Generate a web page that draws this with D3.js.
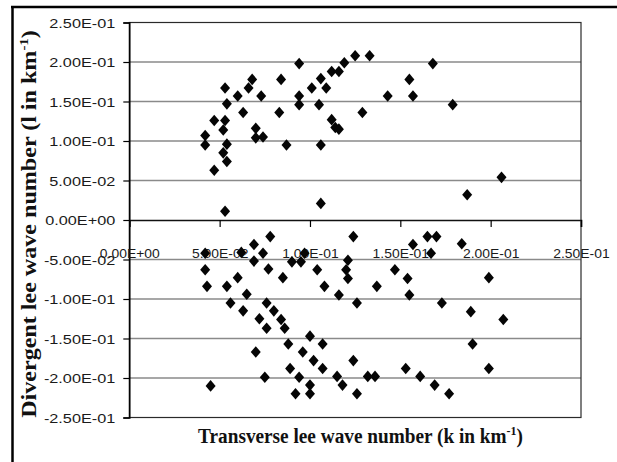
<!DOCTYPE html>
<html>
<head>
<meta charset="utf-8">
<script src="https://cdn.jsdelivr.net/npm/d3@7"></script>
<style>
  html, body { margin: 0; padding: 0; background: #fff; }
  svg { display: block; }
</style>
</head>
<body>
<svg id="chart" width="617" height="462"></svg>
<script>
// ---- data ----
const kUpper = [0.042,0.042,0.047,0.047,0.053,0.054,0.053,0.052,0.054,0.052,0.054,0.053,0.060,0.063,0.066,0.068,0.070,0.070,0.074,0.073,0.084,0.083,0.087,0.094,0.094,0.094,0.101,0.106,0.109,0.105,0.106,0.106,0.112,0.114,0.116,0.112,0.116,0.119,0.125,0.133,0.129,0.143,0.155,0.157,0.168,0.179,0.187,0.206];
const lUpper = [0.107,0.095,0.126,0.063,0.167,0.147,0.126,0.114,0.096,0.085,0.074,0.011,0.157,0.136,0.167,0.178,0.116,0.104,0.105,0.157,0.178,0.136,0.095,0.198,0.157,0.146,0.167,0.179,0.167,0.146,0.095,0.021,0.127,0.117,0.115,0.188,0.188,0.199,0.208,0.208,0.136,0.157,0.178,0.157,0.198,0.146,0.032,0.054];
const kLower = [0.042,0.042,0.043,0.045,0.054,0.060,0.056,0.063,0.065,0.069,0.062,0.069,0.074,0.078,0.077,0.085,0.090,0.095,0.097,0.104,0.108,0.076,0.080,0.084,0.072,0.076,0.086,0.088,0.070,0.075,0.096,0.100,0.107,0.102,0.089,0.094,0.107,0.100,0.092,0.100,
                0.124,0.121,0.120,0.121,0.116,0.126,0.137,0.147,0.154,0.155,0.157,0.165,0.170,0.167,0.184,0.199,0.173,0.189,0.207,0.190,0.199,0.124,0.115,0.118,0.126,0.132,0.136,0.153,0.161,0.169,0.177];
const lLower = [-0.042,-0.063,-0.084,-0.210,-0.084,-0.073,-0.105,-0.115,-0.094,-0.031,-0.041,-0.052,-0.042,-0.021,-0.062,-0.073,-0.053,-0.053,-0.042,-0.063,-0.084,-0.105,-0.115,-0.126,-0.125,-0.137,-0.137,-0.157,-0.167,-0.199,-0.167,-0.147,-0.157,-0.178,-0.188,-0.199,-0.188,-0.209,-0.220,-0.220,
                -0.021,-0.051,-0.063,-0.074,-0.095,-0.105,-0.084,-0.063,-0.074,-0.095,-0.031,-0.021,-0.021,-0.042,-0.030,-0.073,-0.105,-0.116,-0.126,-0.157,-0.188,-0.178,-0.198,-0.209,-0.220,-0.198,-0.198,-0.188,-0.198,-0.209,-0.220];

const xTickValues = [0, 0.05, 0.10, 0.15, 0.20, 0.25];
const xTickLabels = ["0.00E+00","5.00E-02","1.00E-01","1.50E-01","2.00E-01","2.50E-01"];
const yTickValues = [0.25, 0.20, 0.15, 0.10, 0.05, 0, -0.05, -0.10, -0.15, -0.20, -0.25];
const yTickLabels = ["2.50E-01","2.00E-01","1.50E-01","1.00E-01","5.00E-02","0.00E+00","-5.00E-02","-1.00E-01","-1.50E-01","-2.00E-01","-2.50E-01"];
const xTitle = "Transverse lee wave number (k in km";
const yTitle = "Divergent lee wave number (l in km";

// ---- layout ----
const svg = d3.select("#chart");
const L = 129.3, R = 581, T = 22.5, B = 417.5;
const x = d3.scaleLinear().domain([0, 0.25]).range([L, R]);
const y = d3.scaleLinear().domain([-0.25, 0.25]).range([B, T]);

svg.append("rect").attr("width", 617).attr("height", 462).attr("fill", "#fff");

// outer frame (top and left visible)
svg.append("line").attr("x1", 11).attr("x2", 617).attr("y1", 7).attr("y2", 7)
  .attr("stroke", "#000").attr("stroke-width", 2.5);
svg.append("line").attr("x1", 12.5).attr("x2", 12.5).attr("y1", 6).attr("y2", 462)
  .attr("stroke", "#000").attr("stroke-width", 2.5);

// gridlines
svg.append("g").selectAll("line")
  .data(yTickValues.filter(v => v !== 0 && Math.abs(v) < 0.24))
  .join("line")
  .attr("x1", L).attr("x2", R)
  .attr("y1", d => y(d)).attr("y2", d => y(d))
  .attr("stroke", "#8a8a8a").attr("stroke-width", 1.4);

// plot border
svg.append("rect").attr("x", L).attr("y", T).attr("width", R - L).attr("height", B - T)
  .attr("fill", "none").attr("stroke", "#2a2a2a").attr("stroke-width", 1.2);

const tickFont = "'Liberation Sans', Arial, sans-serif";

// y axis
const yAxis = svg.append("g").attr("transform", `translate(${L},0)`)
  .call(d3.axisLeft(y).tickValues(yTickValues).tickSize(6)
    .tickFormat((d, i) => yTickLabels[i]));
yAxis.select(".domain").attr("stroke", "#000").attr("stroke-width", 1.5);
yAxis.selectAll(".tick line").attr("stroke", "#000").attr("stroke-width", 1.2);
yAxis.selectAll("text").attr("font-family", tickFont).attr("font-size", 12.5).attr("fill", "#1a1a1a");
{
  const ref = yAxis.select("text").node().getComputedTextLength();
  const sx = 66 / ref;
  yAxis.selectAll("text").attr("x", 0).attr("dy", "0.36em")
    .attr("transform", `translate(-14,0) scale(${sx},1)`);
}

// x axis at zero
const xAxis = svg.append("g").attr("transform", `translate(0,${y(0)})`)
  .call(d3.axisBottom(x).tickValues(xTickValues).tickSize(7)
    .tickFormat((d, i) => xTickLabels[i]));
xAxis.select(".domain").attr("stroke", "#111").attr("stroke-width", 1.6);
xAxis.selectAll(".tick line").attr("stroke", "#000").attr("stroke-width", 1.2);
xAxis.selectAll("text").attr("font-family", tickFont).attr("font-size", 12.5).attr("fill", "#1a1a1a");
{
  const ref = xAxis.select("text").node().getComputedTextLength();
  const sx = 60 / ref;
  xAxis.selectAll("text").attr("y", 0).attr("dy", 0)
    .attr("transform", `translate(0,38) scale(${sx},1)`);
}

// markers
const diamond = "M0,-5.8L5,0L0,5.8L-5,0Z";
const pts = kUpper.map((k, i) => [k, lUpper[i]]).concat(kLower.map((k, i) => [k, lLower[i]]));
svg.append("g").selectAll("path").data(pts).join("path")
  .attr("d", diamond)
  .attr("transform", d => `translate(${x(d[0])},${y(d[1])})`)
  .attr("fill", "#050505");

// titles
function title(g, str, target) {
  const t = g.append("text").attr("text-anchor", "middle")
    .attr("font-family", "'Liberation Serif', 'Times New Roman', serif")
    .attr("font-weight", "bold").attr("font-size", 21).attr("fill", "#111");
  t.append("tspan").text(str);
  t.append("tspan").attr("font-size", 13).attr("dy", -8).text("-1");
  t.append("tspan").attr("dy", 8).text(")");
  const w = t.node().getComputedTextLength();
  t.attr("transform", `scale(${target / w},1)`);
}
title(svg.append("g").attr("transform", "translate(360.5,443)"), xTitle, 325);
title(svg.append("g").attr("transform", "translate(35.5,224) rotate(-90)"), yTitle, 388);
</script>
</body>
</html>
